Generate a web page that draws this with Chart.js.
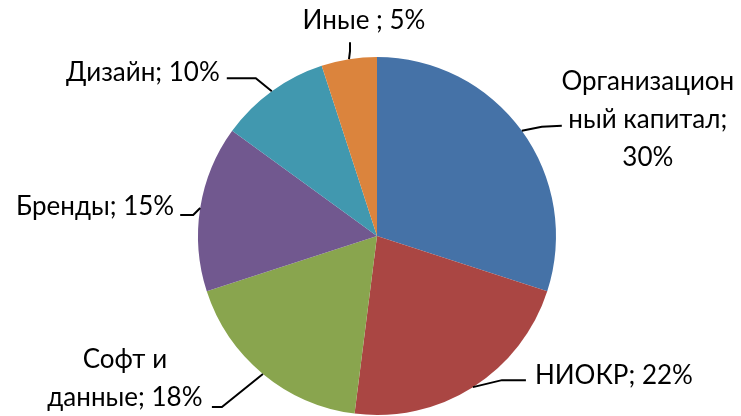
<!DOCTYPE html>
<html>
<head>
<meta charset="utf-8">
<script src="https://cdn.jsdelivr.net/npm/chart.js@4/dist/chart.umd.min.js"></script>
<style>
  html, body { margin: 0; padding: 0; background: #fff; }
  #wrap { width: 741px; height: 416px; position: relative; }
</style>
</head>
<body>
<div id="wrap"><canvas id="c"></canvas></div>
<script>
// Data
const categories = ["Организационный капитал", "НИОКР", "Софт и данные", "Бренды", "Дизайн", "Иные "];
const shares = [30, 22, 18, 15, 10, 5];
const labelLines = [
  ["Организацион", "ный капитал;", "30%"],
  ["НИОКР; 22%"],
  ["Софт и", "данные; 18%"],
  ["Бренды; 15%"],
  ["Дизайн; 10%"],
  ["Иные ; 5%"],
];
const colors = ["#4572A7", "#AA4643", "#89A54E", "#71588F", "#4198AF", "#DB843D"];

// label layout relative to the slice's mid point on the rim
// text: anchor offset, align; leader: elbow + end offsets
const labelLayout = [
  { tx: 126, ty: -11, align: "center", elbow: [20, -4], end: [40, -5] },
  { tx: 62, ty: -12, align: "left", elbow: [29, -7], end: [53, -7] },
  { tx: -138, ty: 5, align: "center", elbow: [-41, 33], end: [-51, 33] },
  { tx: -26, ty: -1, align: "right", elbow: [-7, 7], end: [-20, 7] },
  { tx: -52, ty: -19, align: "right", elbow: [-16, -13], end: [-45, -13] },
  { tx: 15, ty: -39, align: "center", elbow: [1, -8], end: [1, -17] },
];

const FONT = "26px Lato, 'Open Sans', sans-serif";
const LINE_H = 38;

const pieLabels = {
  id: "pieLabels",
  afterDatasetsDraw(chart) {
    const ctx = chart.ctx;
    const meta = chart.getDatasetMeta(0);
    ctx.save();
    ctx.font = FONT;
    ctx.fillStyle = "#000";
    ctx.strokeStyle = "#000";
    ctx.lineWidth = 2;
    ctx.textBaseline = "middle";
    meta.data.forEach((arc, i) => {
      const mid = (arc.startAngle + arc.endAngle) / 2;
      const px = arc.x + Math.cos(mid) * arc.outerRadius;
      const py = arc.y + Math.sin(mid) * arc.outerRadius;
      const lay = labelLayout[i];

      // leader line
      ctx.beginPath();
      ctx.moveTo(px, py);
      ctx.lineTo(px + lay.elbow[0], py + lay.elbow[1]);
      ctx.lineTo(px + lay.end[0], py + lay.end[1]);
      ctx.stroke();

      // text
      const lines = labelLines[i];
      ctx.textAlign = lay.align;
      const y0 = py + lay.ty - (lines.length - 1) * LINE_H / 2;
      lines.forEach((ln, k) => {
        ctx.fillText(ln, px + lay.tx, y0 + k * LINE_H);
      });
    });
    ctx.restore();
  }
};

new Chart(document.getElementById("c"), {
  type: "pie",
  data: {
    labels: categories,
    datasets: [{
      data: shares,
      backgroundColor: colors,
      borderWidth: 0,
      hoverOffset: 0,
    }]
  },
  options: {
    responsive: true,
    maintainAspectRatio: false,
    animation: false,
    layout: { padding: { left: 198, right: 185, top: 57, bottom: 1 } },
    plugins: {
      legend: { display: false },
      tooltip: { enabled: false },
    }
  },
  plugins: [pieLabels]
});
</script>
</body>
</html>
